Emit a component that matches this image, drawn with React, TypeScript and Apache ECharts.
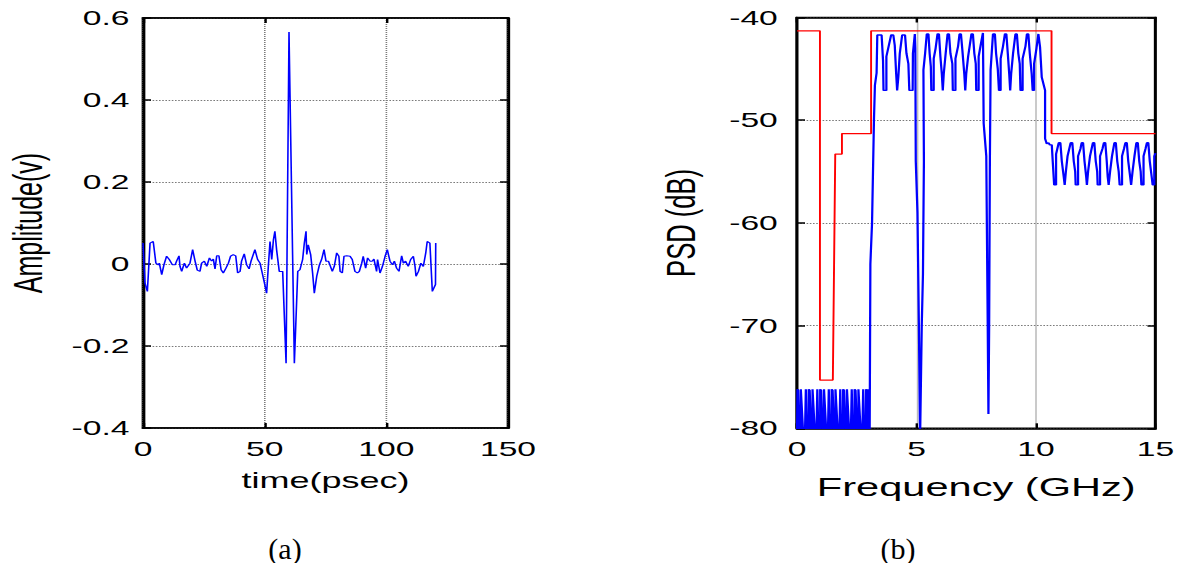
import React, { useEffect, useRef } from "react";
import * as echarts from "echarts";

// The reference figure is horizontally stretched; we render in an
// unstretched coordinate space and stretch the whole chart with CSS.
const SX = 1.6;
const PAGE_W = 1182;
const PAGE_H = 563;

// ---------- (a) time-domain pulse ----------
const pulseTime = [0, 0.8, 1.8, 2.9, 4.2, 5.3, 6.3, 6.7, 7.7, 8.6, 9.7, 10.8, 12.1, 13.2, 13.8, 14.8, 15.2, 15.9, 17.0, 17.9, 19.3, 20.4, 21.4, 22.3, 23.4, 24.1, 25.2, 26.2, 27.3, 28.2, 28.9, 29.6, 30.3, 31.2, 32.1, 33.0, 34.1, 35.1, 36.0, 37.1, 38.1, 38.9, 39.9, 40.5, 41.6, 42.6, 43.6, 44.4, 45.3, 46.0, 47.1, 48.1, 49.0, 49.9, 50.8, 51.5, 52.2, 52.9, 53.6, 54.2, 54.9, 56.0, 57.4, 58.8, 60.0, 62.2, 63.6, 64.5, 65.6, 66.3, 67.0, 67.3, 67.9, 68.9, 69.7, 70.4, 71.4, 72.5, 73.4, 74.4, 75.2, 76.2, 76.8, 77.8, 78.6, 79.6, 80.5, 81.0, 81.9, 82.6, 83.7, 85.1, 86.0, 87.1, 88.1, 88.9, 89.9, 90.5, 91.5, 92.3, 93.3, 94.2, 94.9, 96.0, 96.4, 97.4, 98.4, 99.5, 100.4, 101.5, 102.5, 103.3, 104.2, 105.2, 106.3, 107.0, 107.9, 109.0, 110.0, 111.1, 111.8, 112.2, 113.2, 114.2, 115.2, 116.2, 116.8, 117.9, 118.9, 120.2, 120.3];
const pulseAmp = [0.051, -0.046, -0.067, 0.051, 0.055, 0.002, -0.002, 0.002, -0.026, -0.002, 0.019, 0.011, -0.002, -0.002, 0.007, 0.020, -0.006, -0.018, 0.002, -0.010, 0.002, 0.035, 0.007, -0.015, -0.018, 0.002, 0.007, -0.006, 0.015, 0.007, 0.012, -0.012, 0.020, 0.020, -0.014, -0.022, -0.010, 0.002, 0.019, 0.023, 0.020, -0.022, -0.018, 0.007, 0.025, -0.002, -0.012, 0.007, 0.023, 0.035, 0.011, 0.002, -0.022, -0.046, -0.071, -0.006, 0.055, 0.011, 0.059, 0.080, 0.035, -0.018, -0.018, -0.242, 0.566, -0.242, -0.018, -0.014, 0.011, 0.051, 0.080, 0.023, 0.047, 0.023, -0.022, -0.071, -0.030, -0.002, 0.011, 0.035, 0.007, 0.007, -0.002, -0.018, -0.006, 0.027, 0.019, -0.018, -0.022, 0.019, 0.020, 0.019, 0.011, -0.018, -0.022, -0.018, 0.002, 0.019, -0.010, 0.015, 0.007, 0.007, 0.012, -0.018, 0.011, -0.022, -0.006, 0.019, 0.035, 0.007, -0.002, 0.007, -0.010, -0.018, 0.020, 0.002, 0.007, -0.006, 0.011, 0.019, -0.006, -0.030, -0.018, 0.002, -0.006, 0.027, 0.055, 0.051, -0.067, -0.050, 0.051];
const timeTicks = [0, 50, 100, 150];
const ampTicks = [-0.4, -0.2, 0, 0.2, 0.4, 0.6];

// ---------- (b) PSD vs FCC mask ----------
const maskFreq = [0, 0.96, 0.96, 1.5, 1.6, 1.88, 1.88, 3.1, 3.1, 10.65, 10.65, 15];
const maskDb = [-41.3, -41.3, -75.3, -75.3, -53.3, -53.3, -51.3, -51.3, -41.3, -41.3, -51.3, -51.3];

const psdLowBand = [
  [0, -81], [0.02, -76.2], [0.05, -76.3], [0.1, -81], [0.16, -81], [0.16, -76.2], [0.2, -76.2], [0.27, -81],
  [0.33, -81], [0.37, -76.2], [0.42, -81], [0.49, -81], [0.49, -76.2], [0.53, -76.3], [0.6, -81],
  [0.65, -81], [0.65, -76.2], [0.69, -76.2], [0.76, -81], [0.81, -81], [0.85, -76.2], [0.9, -81],
  [0.97, -81], [0.97, -76.2], [1.01, -76.3], [1.08, -81], [1.13, -81], [1.13, -76.2], [1.17, -76.2], [1.24, -81],
  [1.29, -81], [1.33, -76.2], [1.38, -81], [1.45, -81], [1.45, -76.2], [1.49, -76.3], [1.56, -81],
  [1.61, -81], [1.61, -76.2], [1.65, -76.2], [1.72, -81], [1.77, -81], [1.81, -76.2], [1.86, -81],
  [1.93, -81], [1.93, -76.2], [1.97, -76.3], [2.04, -81], [2.09, -81], [2.09, -76.2], [2.13, -76.2], [2.2, -81],
  [2.25, -81], [2.29, -76.2], [2.34, -81], [2.41, -81], [2.41, -76.2], [2.45, -76.3], [2.52, -81],
  [2.57, -81], [2.57, -76.2], [2.61, -76.2], [2.68, -81], [2.73, -81], [2.77, -76.2], [2.82, -81],
  [2.89, -81], [2.89, -76.2], [2.93, -76.3], [2.98, -81], [2.98, -76.2], [3.02, -76.2], [3.04, -81],
  [3.05, -81], [3.07, -64], [3.14, -60], [3.22, -50], [3.26, -46.6], [3.33, -45.4], [3.36, -41.7],
];
const psdPassBand = [
  [3.54, -41.7], [3.6, -44.2], [3.62, -47.1], [3.74, -47.1], [3.74, -43.8], [3.94, -41.7], [4.03, -41.7],
  [4.09, -42.7], [4.15, -45.5], [4.19, -47.1], [4.24, -45.8], [4.3, -43.5], [4.4, -41.7], [4.52, -41.7],
  [4.58, -43.5], [4.66, -44.5], [4.7, -47.1], [4.84, -47.1], [4.85, -43.5], [4.93, -41.6],
  [4.95, -43], [4.97, -54], [5.04, -59], [5.1, -70], [5.15, -81], [5.19, -81], [5.22, -70], [5.27, -65],
  [5.31, -54], [5.29, -45.1], [5.36, -43.5], [5.43, -41.6],
  [5.5, -41.6], [5.55, -43.5], [5.6, -44.8], [5.62, -47.1], [5.72, -47.1], [5.72, -44], [5.8, -43], [5.88, -41.6],
  [5.94, -41.6], [6.0, -43.8], [6.06, -45.5], [6.1, -47.1], [6.14, -45.5], [6.22, -43.5], [6.3, -41.6],
  [6.36, -41.6], [6.42, -43.5], [6.5, -44.5], [6.52, -47.1], [6.63, -47.1], [6.63, -44], [6.74, -42.8], [6.8, -41.6],
  [6.86, -41.6], [6.92, -43.2], [7.0, -45.5], [7.04, -47.1], [7.08, -45.5], [7.16, -43.8], [7.3, -41.6],
  [7.36, -41.6], [7.42, -43.5], [7.48, -44.5], [7.5, -47.1], [7.6, -47.1], [7.6, -43.8], [7.7, -42.5], [7.78, -41.5],
  [7.81, -50.3], [7.92, -53.5], [7.98, -70], [8.01, -78.6], [8.04, -70], [8.07, -54], [8.1, -45.1], [8.2, -41.6],
  [8.28, -41.6], [8.33, -43.5], [8.4, -45], [8.45, -47.1], [8.52, -47.1], [8.52, -44], [8.62, -42.8], [8.7, -41.6],
  [8.76, -41.6], [8.82, -43.5], [8.88, -45.5], [8.92, -47.1], [8.96, -45.5], [9.04, -43.5], [9.14, -41.6],
  [9.2, -41.6], [9.26, -43.5], [9.32, -44.5], [9.35, -47.1], [9.44, -47.1], [9.44, -44], [9.56, -42.8], [9.62, -41.6],
  [9.68, -41.6], [9.74, -43.5], [9.82, -45.5], [9.86, -47.1], [9.92, -47.1], [9.92, -44.5], [10.02, -43], [10.1, -41.6],
];
const psdHighBand = [
  [10.17, -42.9], [10.24, -45.8], [10.38, -47.1], [10.38, -51.8], [10.45, -52.3], [10.52, -52.2], [10.58, -52.4],
  [10.66, -52.4], [10.7, -54], [10.76, -56.3], [10.84, -56.3], [10.84, -53.3], [10.95, -52.2], [11.02, -52.2],
  [11.08, -54], [11.16, -55.5], [11.2, -56.3], [11.25, -55], [11.32, -53.5], [11.45, -52.2], [11.52, -52.2],
  [11.58, -54], [11.64, -55], [11.66, -56.3], [11.76, -56.3], [11.76, -53.5], [11.86, -52.8], [11.91, -52.2],
  [11.97, -52.2], [12.03, -54], [12.1, -55.5], [12.13, -56.3], [12.18, -55], [12.26, -53.5], [12.38, -52.2],
  [12.44, -52.2], [12.5, -54], [12.56, -55], [12.58, -56.3], [12.68, -56.3], [12.68, -53.5], [12.78, -52.8],
  [12.84, -52.2], [12.9, -52.2], [12.96, -54], [13.0, -55.5], [13.04, -56.3], [13.1, -55], [13.18, -53.5],
  [13.28, -52.2], [13.34, -52.2], [13.4, -54], [13.46, -55], [13.5, -56.3], [13.6, -56.3], [13.6, -53.5],
  [13.68, -52.8], [13.74, -52.2], [13.8, -52.2], [13.86, -54], [13.94, -55.5], [13.98, -56.3], [14.04, -55],
  [14.12, -53.5], [14.2, -52.2], [14.26, -52.2], [14.32, -54], [14.38, -55], [14.41, -56.3], [14.5, -56.3],
  [14.5, -53.5], [14.58, -52.8], [14.64, -52.2], [14.7, -52.2], [14.76, -54], [14.84, -55.5], [14.88, -56.3],
  [14.95, -56.3], [14.95, -53.5], [15, -53.2],
];
const freqTicks = [0, 5, 10, 15];
const psdTicks = [-80, -70, -60, -50, -40];

const captions = ["(a)", "(b)"];

const FONT = '"Liberation Sans", Arial, Helvetica, sans-serif';
const BLACK = "#000";
const FRAME_W = 1.7;

const rectA = { left: 143 / SX, top: 18, width: 365 / SX, height: 410 };
const rectB = { left: 797 / SX, top: 17.5, width: 358.5 / SX, height: 410.8 };

function axisOf(gridIndex: number, ticks: number[], position: string, extra: any) {
  return {
    show: true,
    gridIndex,
    type: "value",
    position,
    min: ticks[0],
    max: ticks[ticks.length - 1],
    interval: ticks[1] - ticks[0],
    axisLine: { show: true, onZero: false, lineStyle: { color: BLACK, width: FRAME_W } },
    axisTick: { show: true, inside: true, length: 5, lineStyle: { color: BLACK, width: 1.5 } },
    axisLabel: { show: false },
    splitLine: { show: false },
    ...extra,
  };
}

const gridLine = { show: true, lineStyle: { color: "#7a7a7a", type: "dotted", width: 1 } };
const tickFont = { show: true, color: BLACK, fontFamily: FONT, fontSize: 21 };

export default function App() {
  const ref = useRef<HTMLDivElement>(null);
  useEffect(() => {
    if (!ref.current) return;
    const chart = echarts.init(ref.current, null, {
      renderer: "svg",
      width: PAGE_W / SX,
      height: PAGE_H,
    });

    const pulse = pulseTime.map((t, i) => [t, pulseAmp[i]]);
    const mask = maskFreq.map((f, i) => [f, maskDb[i]]);
    const psd = [...psdLowBand, ...psdPassBand, ...psdHighBand];

    const frame = { show: true, borderColor: BLACK, borderWidth: FRAME_W, backgroundColor: "rgba(0,0,0,0)" };

    const option: any = {
      animation: false,
      grid: [rectA, rectB, { ...rectA, ...frame }, { ...rectB, ...frame }],
      xAxis: [
        axisOf(0, timeTicks, "bottom", {
          axisLabel: { ...tickFont, margin: 10 },
          splitLine: gridLine,
          name: "time(psec)",
          nameLocation: "middle",
          nameGap: 41,
          nameTextStyle: { color: BLACK, fontFamily: FONT, fontSize: 22.5 },
        }),
        axisOf(1, freqTicks, "bottom", {
          axisLabel: { ...tickFont, margin: 10 },
          splitLine: gridLine,
          name: "Frequency (GHz)",
          nameLocation: "middle",
          nameGap: 46,
          nameTextStyle: { color: BLACK, fontFamily: FONT, fontSize: 26 },
        }),
        axisOf(2, timeTicks, "top", {}),
        axisOf(3, freqTicks, "top", {}),
      ],
      yAxis: [
        axisOf(0, ampTicks, "left", {
          axisLabel: { ...tickFont, margin: 8.5 },
          splitLine: gridLine,
          name: "Amplitude(v)",
          nameLocation: "middle",
          nameGap: 59,
          nameTextStyle: { color: BLACK, fontFamily: FONT, fontSize: 25 },
        }),
        axisOf(1, psdTicks, "left", {
          axisLabel: { ...tickFont, margin: 12 },
          splitLine: gridLine,
          name: "PSD (dB)",
          nameLocation: "middle",
          nameGap: 60,
          nameTextStyle: { color: BLACK, fontFamily: FONT, fontSize: 25.6 },
        }),
        axisOf(2, ampTicks, "right", {}),
        axisOf(3, psdTicks, "right", {}),
      ],
      series: [
        {
          type: "line",
          xAxisIndex: 0,
          yAxisIndex: 0,
          data: pulse,
          showSymbol: false,
          symbol: "none",
          clip: true,
          lineStyle: { color: "#0000ff", width: 1 },
        },
        {
          type: "line",
          xAxisIndex: 1,
          yAxisIndex: 1,
          data: psd,
          showSymbol: false,
          symbol: "none",
          clip: true,
          lineStyle: { color: "#0000ff", width: 1.4 },
        },
        {
          type: "line",
          xAxisIndex: 1,
          yAxisIndex: 1,
          data: mask,
          showSymbol: false,
          symbol: "none",
          clip: true,
          lineStyle: { color: "#ff0000", width: 1.2 },
        },
        // series that bind the mirrored (top / right) box axes
        {
          type: "line", xAxisIndex: 2, yAxisIndex: 2, silent: true, symbol: "none",
          lineStyle: { opacity: 0 }, data: [[timeTicks[0], ampTicks[0]]],
        },
        {
          type: "line", xAxisIndex: 3, yAxisIndex: 3, silent: true, symbol: "none",
          lineStyle: { opacity: 0 }, data: [[freqTicks[0], psdTicks[0]]],
        },
      ],
      graphic: captions.map((c, i) => ({
        type: "text",
        x: (i === 0 ? 285 : 898) / SX,
        y: 548,
        scaleX: 1 / SX,
        style: {
          text: c,
          font: '30px "Liberation Serif", "Times New Roman", serif',
          fill: BLACK,
          textAlign: "center",
          textVerticalAlign: "middle",
          align: "center",
          verticalAlign: "middle",
        },
      })),
    };
    chart.setOption(option);
    return () => chart.dispose();
  }, []);

  return (
    <div
      ref={ref}
      style={{
        position: "absolute",
        left: 0,
        top: 0,
        width: PAGE_W / SX,
        height: PAGE_H,
        transform: `scaleX(${SX})`,
        transformOrigin: "0 0",
      }}
    />
  );
}
